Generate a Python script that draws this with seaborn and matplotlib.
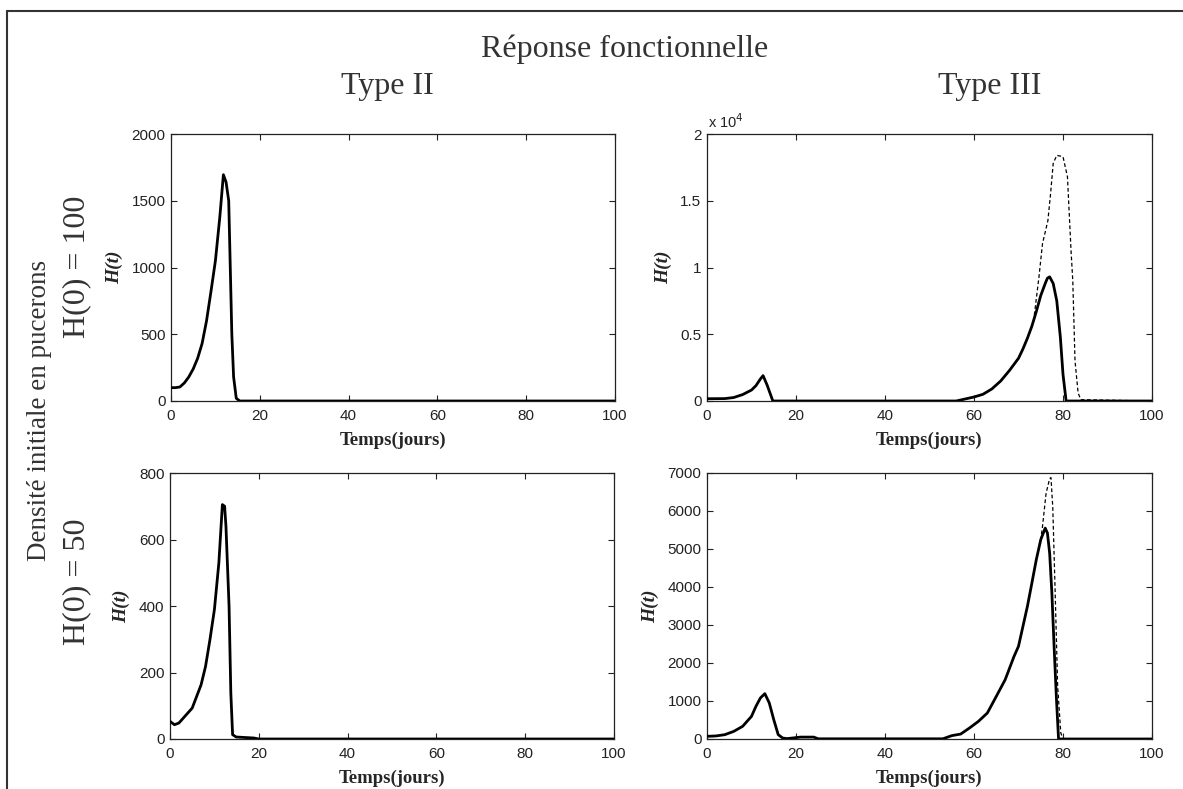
import matplotlib
matplotlib.use("Agg")
import matplotlib.pyplot as plt
import seaborn as sns
from matplotlib.lines import Line2D
from matplotlib.ticker import FuncFormatter, MultipleLocator

# Type II, H(0) = 100
t_ii_100 = [0, 1, 2, 3, 4, 5, 6, 7, 8, 9, 10, 11, 11.8, 12.4, 13.0, 13.7, 14.1, 14.7, 15.5, 100]
h_ii_100 = [100, 100, 105, 135, 180, 240, 320, 430, 600, 820, 1050, 1380, 1695, 1640, 1500, 500, 180, 20, 0, 0]

# Type III, H(0) = 100 (solid + dashed)
t_iii_100 = [0, 2, 4, 6, 8, 10, 11, 12, 12.6, 13.5, 14.8, 56, 58, 60, 62, 64, 66, 68, 70, 71, 72,
             73, 74, 75, 76, 76.5, 77, 77.8, 78.6, 79.4, 80, 80.7, 100]
h_iii_100 = [170, 175, 180, 260, 480, 820, 1150, 1650, 1900, 1200, 0, 0, 150, 300, 500, 900, 1500,
             2300, 3200, 3900, 4700, 5600, 6700, 7900, 8800, 9200, 9300, 8800, 7500, 4800, 2000, 0, 0]
t_iii_100_d = [66, 68, 70, 72, 73, 73.4, 74.6, 75.4, 76.6, 77.2, 77.8, 78.6, 80.0, 81.0, 81.8,
               82.2, 82.7, 83.4, 84.0, 100]
h_iii_100_d = [1500, 2300, 3200, 4700, 5600, 6000, 9300, 11800, 13500, 15500, 17800, 18400, 18300,
               16800, 11300, 9000, 3000, 600, 100, 0]

# Type II, H(0) = 50
t_ii_50 = [0, 1, 2, 3, 4, 5, 6, 7, 8, 9, 10, 11, 11.8, 12.3, 12.6, 13.3, 13.7, 14.1, 14.9, 18.9, 20, 100]
h_ii_50 = [53, 43, 48, 63, 78, 93, 128, 163, 218, 299, 389, 529, 705, 700, 640, 400, 138, 13, 6, 3, 0, 0]

# Type III, H(0) = 50 (solid + dashed)
t_iii_50 = [0, 2, 4, 6, 8, 10, 11, 12, 13, 14, 15, 16, 17, 18, 21, 24, 25, 53, 55, 57, 59, 61, 63,
            65, 67, 69, 70, 71, 72, 73, 74, 75, 76, 76.5, 77, 77.5, 78, 78.5, 79, 100]
h_iii_50 = [70, 80, 114, 200, 333, 596, 860, 1080, 1193, 947, 509, 114, 26, 10, 50, 50, 5, 5, 88,
            130, 290, 465, 684, 1120, 1560, 2175, 2440, 2965, 3490, 4100, 4720, 5245, 5550, 5420,
            4890, 3840, 2440, 1120, 0, 0]
t_iii_50_d = [73, 74, 75, 75.4, 76.2, 77, 77.3, 77.7, 78.2, 78.8, 79.5, 80, 100]
h_iii_50_d = [4100, 4720, 5245, 5600, 6470, 6850, 6880, 6100, 4020, 1390, 160, 0, 0]

title = "Réponse fonctionnelle"
col_titles = ["Type II", "Type III"]
row_title = "Densité initiale en pucerons"
row_labels = ["H(0) = 100", "H(0) = 50"]
xlab = "Temps(jours)"
ylab = "H(t)"

sns.set_theme(style="ticks")
plt.rcParams.update({
    "font.family": ["Liberation Sans", "DejaVu Sans"],
    "xtick.direction": "in", "ytick.direction": "in",
    "xtick.top": True, "ytick.right": True,
    "xtick.major.size": 4, "ytick.major.size": 4,
    "xtick.major.width": 0.8, "ytick.major.width": 0.8,
    "axes.linewidth": 0.9, "axes.edgecolor": "#222222",
    "xtick.labelsize": 11, "ytick.labelsize": 11,
    "xtick.color": "#222222", "ytick.color": "#222222",
})

fig = plt.figure(figsize=(11.83, 7.89), dpi=100)
W, H = 1183, 789

def axes_px(x0, y0, x1, y1):
    return fig.add_axes([x0 / W, 1 - y1 / H, (x1 - x0) / W, (y1 - y0) / H])

serif = "Liberation Serif"

def panel(ax, t, h, ymax, ystep, td=None, hd=None, scale=1):
    if td is not None:
        sns.lineplot(x=td, y=hd, ax=ax, color="black", linewidth=0.9,
                     linestyle=(0, (3, 2)), zorder=2)
    sns.lineplot(x=t, y=h, ax=ax, color="black", linewidth=2.0, zorder=3)
    ax.set_xlim(0, 100)
    ax.set_ylim(0, ymax)
    ax.xaxis.set_major_locator(MultipleLocator(20))
    ax.yaxis.set_major_locator(MultipleLocator(ystep))
    if scale != 1:
        ax.yaxis.set_major_formatter(FuncFormatter(lambda v, p: f"{v / scale:g}"))
    ax.tick_params(axis="x", pad=6)
    ax.tick_params(axis="y", pad=4)
    ax.set_xlabel(xlab, fontfamily=serif, fontweight="bold", fontsize=13.5, labelpad=6)
    ax.set_ylabel(ylab, fontfamily=serif, fontweight="bold", fontstyle="italic", fontsize=14,
                  labelpad=6)

ax1 = axes_px(171, 134, 615, 401)
panel(ax1, t_ii_100, h_ii_100, 2000, 500)
ax2 = axes_px(707, 134, 1152, 401)
panel(ax2, t_iii_100, h_iii_100, 20000, 5000, t_iii_100_d, h_iii_100_d, scale=10000)
ax2.text(0.003, 1.012, r"x 10$^4$", transform=ax2.transAxes, ha="left", va="bottom",
         fontsize=10.5, color="#222222")
ax3 = axes_px(170, 473, 614, 739)
panel(ax3, t_ii_50, h_ii_50, 800, 200)
ax4 = axes_px(707, 473, 1152, 739)
panel(ax4, t_iii_50, h_iii_50, 7000, 1000, t_iii_50_d, h_iii_50_d)

tcol = "#333333"
fs = 23
fig.text(625 / W, 1 - 57 / H, title, family=serif, fontsize=fs, ha="center", va="baseline", color=tcol)
fig.text(387 / W, 1 - 94 / H, col_titles[0], family=serif, fontsize=fs, ha="center", va="baseline", color=tcol)
fig.text(990 / W, 1 - 94 / H, col_titles[1], family=serif, fontsize=fs, ha="center", va="baseline", color=tcol)
fig.text(40 / W, 1 - 410 / H, row_title, family=serif, fontsize=19.5, rotation=90,
         ha="center", va="center", color=tcol)
fig.text(77 / W, 1 - 267 / H, row_labels[0], family=serif, fontsize=fs, rotation=90,
         ha="center", va="center", color=tcol)
fig.text(77 / W, 1 - 582 / H, row_labels[1], family=serif, fontsize=fs, rotation=90,
         ha="center", va="center", color=tcol)

# outer frame (left and top edges)
fig.add_artist(Line2D([7 / W, 7 / W], [0, 1 - 11 / H], color="#333333", lw=1.5))
fig.add_artist(Line2D([7 / W, 1], [1 - 11 / H, 1 - 11 / H], color="#333333", lw=1.5))

fig.savefig("out.png", dpi=100, facecolor="white")
